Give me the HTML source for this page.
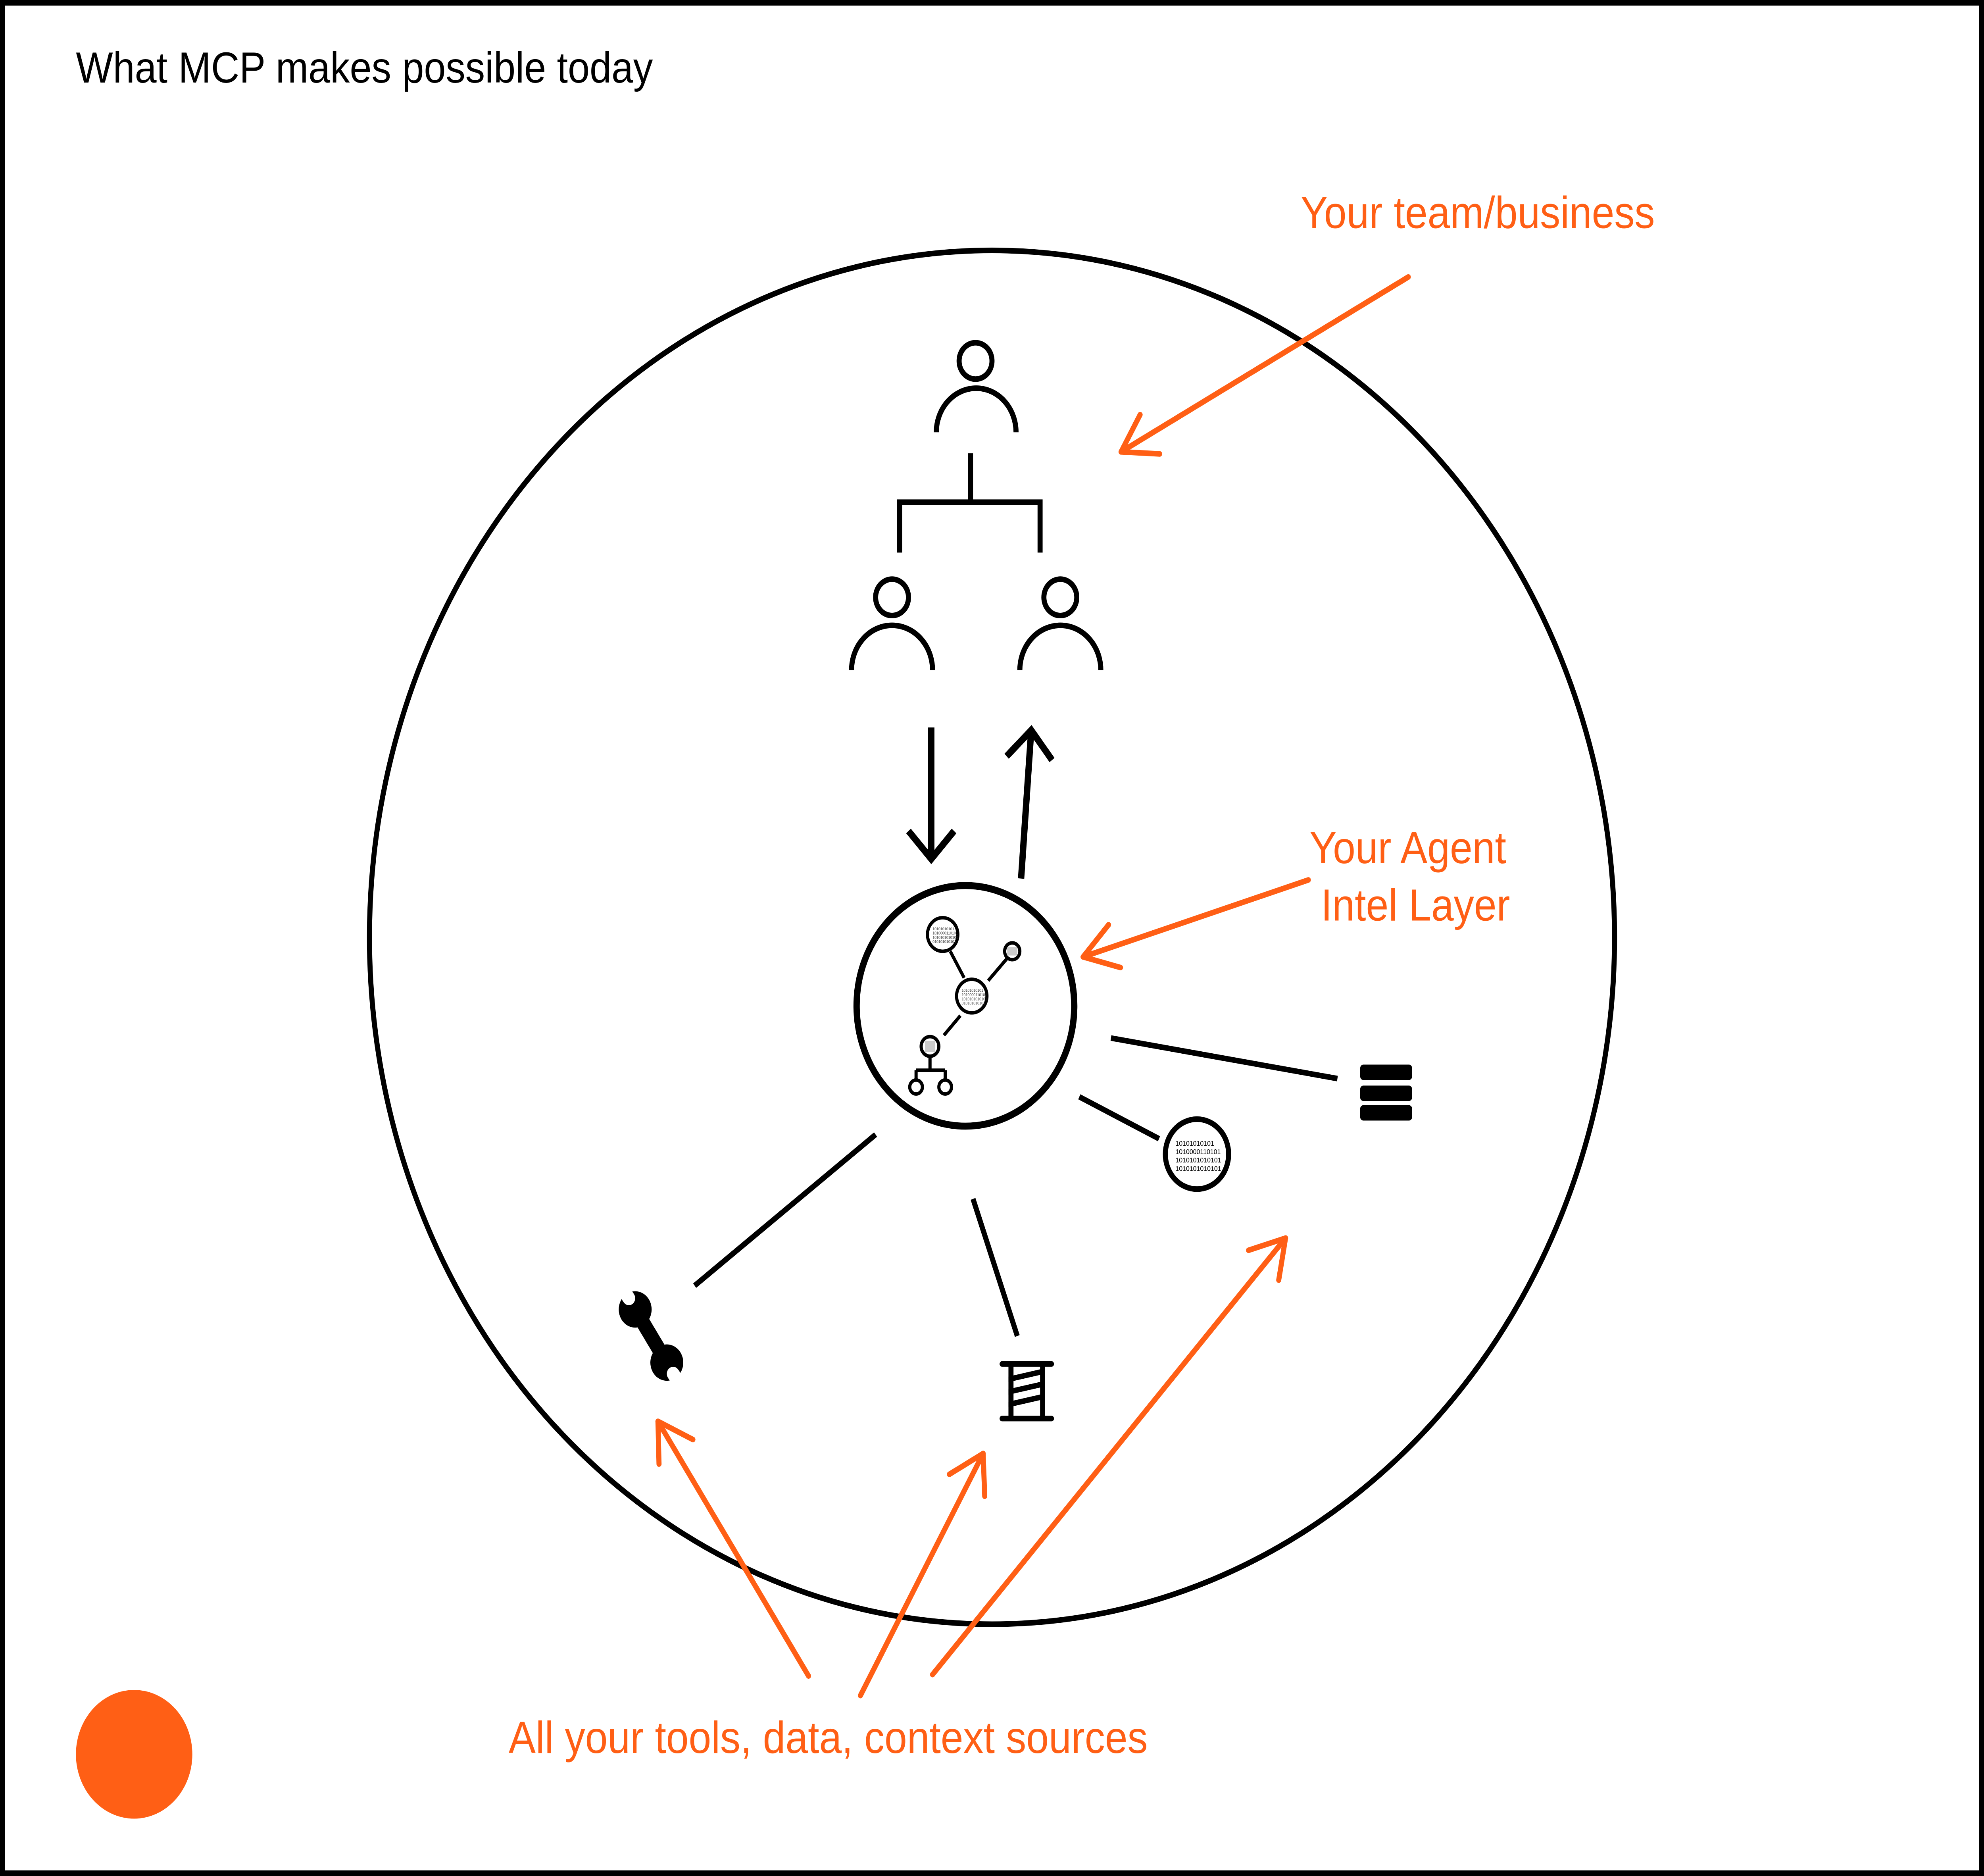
<!DOCTYPE html>
<html><head><meta charset="utf-8"><style>
html,body{margin:0;padding:0;background:#fff;width:100%;height:100%;overflow:hidden;}
svg{display:block;position:fixed;left:0;top:0;width:100vw;height:100vh;}
</style></head><body>
<svg viewBox="0 0 1568 1341" preserveAspectRatio="none" xmlns="http://www.w3.org/2000/svg">
<defs>
<marker id="oa" markerUnits="userSpaceOnUse" markerWidth="40" markerHeight="40" refX="30" refY="20" orient="auto">
<path d="M4,4 L30,20 L4,36" fill="none" stroke="#FF5F15" stroke-width="4" stroke-linecap="round" stroke-linejoin="round"/>
</marker>
<marker id="ba" markerUnits="userSpaceOnUse" markerWidth="40" markerHeight="40" refX="30" refY="20" orient="auto">
<path d="M10,2 L30,20 L10,38" fill="none" stroke="#000" stroke-width="5"/>
</marker>
</defs>
<rect x="2" y="2" width="1564" height="1337" fill="#fff" stroke="#000" stroke-width="4"/>
<text x="60" y="59" font-family="Liberation Sans, sans-serif" font-size="31" fill="#000">What MCP makes possible today</text>

<ellipse cx="784" cy="670" rx="492" ry="491" fill="none" stroke="#000" stroke-width="4"/>

<g fill="none" stroke="#000" stroke-width="4">
<circle cx="771" cy="258" r="13"/>
<path d="M740,309 A31.5,31.5 0 0 1 803,309"/>
<path d="M767,324 V359 M709,359 H824 M711,359 V395 M822,359 V395"/>
<circle cx="705" cy="427" r="13"/>
<path d="M673,479 A32,32 0 0 1 737,479"/>
<circle cx="838" cy="427" r="13"/>
<path d="M806,479 A32,32 0 0 1 870,479"/>
</g>
<line x1="736" y1="520" x2="736" y2="614" stroke="#000" stroke-width="5" marker-end="url(#ba)"/>
<line x1="807" y1="628" x2="815" y2="522" stroke="#000" stroke-width="5" marker-end="url(#ba)"/>

<circle cx="763" cy="719" r="86" fill="#fff" stroke="#000" stroke-width="5"/>
<g stroke="#000" stroke-width="2.5" fill="#fff">
<line x1="751" y1="680" x2="762" y2="699"/>
<line x1="781" y1="701" x2="796" y2="685"/>
<line x1="759" y1="726" x2="746" y2="740"/>
<path d="M735,755 V765 M724,765 H747 M724,765 V772 M747,765 V772" fill="none"/>
<circle cx="745" cy="668" r="12"/>
<circle cx="800" cy="680" r="6"/>
<circle cx="768" cy="712" r="12"/>
<circle cx="735" cy="748" r="7"/>
<circle cx="724" cy="777" r="5"/>
<circle cx="747" cy="777" r="5"/>
</g>
<g font-family="Liberation Sans, sans-serif" font-size="2.8" fill="#333">
<text x="737" y="665">10101010101</text><text x="737" y="668">1010000110101</text><text x="737" y="671">1010101010101</text><text x="737" y="674">010101010101</text>
<text x="760" y="709">10101010101</text><text x="760" y="712">1010000110101</text><text x="760" y="715">1010101010101</text><text x="760" y="718">010101010101</text>
</g>
<rect x="731" y="744" width="8" height="8" fill="#ccc"/>
<rect x="796" y="677" width="8" height="6" fill="#ccc"/>

<g stroke="#000" stroke-width="4">
<line x1="878" y1="742" x2="1057" y2="771"/>
<line x1="853" y1="784" x2="916" y2="814"/>
<line x1="692" y1="811" x2="549" y2="919"/>
<line x1="769" y1="857" x2="804" y2="955"/>
</g>
<circle cx="946" cy="825" r="25" fill="#fff" stroke="#000" stroke-width="4"/>
<g font-family="Liberation Sans, sans-serif" font-size="5" fill="#000">
<text x="929" y="819">10101010101</text><text x="929" y="825">1010000110101</text><text x="929" y="831">1010101010101</text><text x="929" y="837">1010101010101</text>
</g>

<g fill="#000">
<rect x="1075" y="761" width="41" height="11" rx="2.5"/>
<rect x="1075" y="776" width="41" height="11" rx="2.5"/>
<rect x="1075" y="790" width="41" height="11" rx="2.5"/>
</g>

<g>
<line x1="502" y1="936" x2="527" y2="974" stroke="#000" stroke-width="11"/>
<circle cx="502" cy="936" r="13" fill="#000"/>
<circle cx="527" cy="974" r="13" fill="#000"/>
<circle cx="497" cy="928" r="5" fill="#fff"/>
<line x1="497" y1="928" x2="488" y2="916" stroke="#fff" stroke-width="10"/>
<circle cx="532" cy="982" r="5" fill="#fff"/>
<line x1="532" y1="982" x2="541" y2="994" stroke="#fff" stroke-width="10"/>
</g>

<g fill="#000">
<rect x="790" y="973" width="43" height="4" rx="2"/>
<rect x="790" y="1012" width="43" height="4" rx="2"/>
<rect x="797" y="976" width="4" height="37"/>
<rect x="822" y="976" width="4" height="37"/>
<path d="M797,984 L826,978 L826,982 L797,988Z M797,993 L826,987 L826,991 L797,997Z M797,1002 L826,996 L826,1000 L797,1006Z"/>
</g>

<g stroke="#FF5F15" stroke-width="4" fill="none" stroke-linecap="round">
<line x1="1113" y1="198" x2="886" y2="323" marker-end="url(#oa)"/>
<line x1="1034" y1="629" x2="856" y2="684" marker-end="url(#oa)"/>
<line x1="639" y1="1198" x2="520" y2="1016" marker-end="url(#oa)"/>
<line x1="680" y1="1212" x2="777" y2="1039" marker-end="url(#oa)"/>
<line x1="737" y1="1197" x2="1016" y2="885" marker-end="url(#oa)"/>
</g>
<g font-family="Liberation Sans, sans-serif" font-size="32" fill="#FF5F15">
<text x="1028" y="163">Your team/business</text>
<text x="1035" y="617">Your Agent</text>
<text x="1044" y="658">Intel Layer</text>
<text x="402" y="1253">All your tools, data, context sources</text>
</g>
<circle cx="106" cy="1254" r="46" fill="#FF5F15"/>
</svg>
</body></html>
